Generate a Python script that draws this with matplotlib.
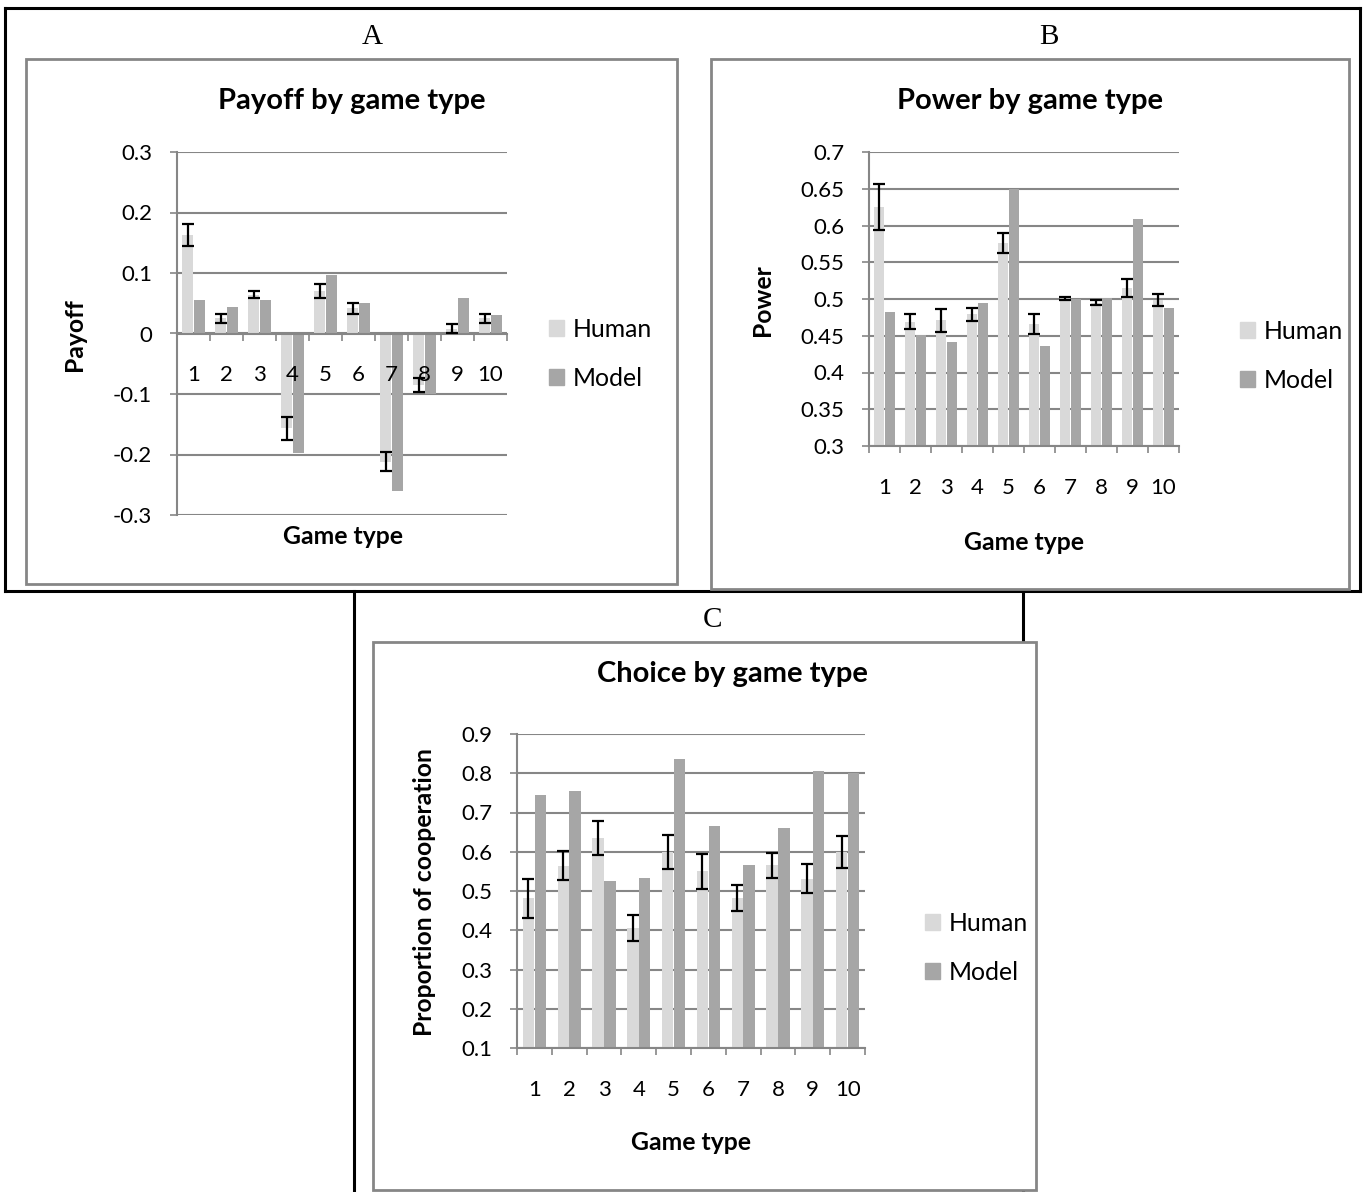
import matplotlib
matplotlib.use("Agg")
import matplotlib.pyplot as plt
from matplotlib.patches import Rectangle, Patch
from matplotlib.lines import Line2D
import numpy as np

plt.rcParams["font.family"] = ["Lato", "DejaVu Sans"]
plt.rcParams["axes.unicode_minus"] = False

W, H, DPI = 1365, 1192, 100

games = ["1", "2", "3", "4", "5", "6", "7", "8", "9", "10"]

payoff_human = [0.163, 0.025, 0.064, -0.157, 0.070, 0.042, -0.212, -0.085, 0.008, 0.025]
payoff_human_err = [0.018, 0.008, 0.006, 0.019, 0.012, 0.009, 0.016, 0.012, 0.007, 0.008]
payoff_model = [0.055, 0.044, 0.056, -0.198, 0.096, 0.051, -0.261, -0.100, 0.059, 0.030]

power_human = [0.625, 0.469, 0.471, 0.479, 0.576, 0.466, 0.501, 0.495, 0.515, 0.499]
power_human_err = [0.031, 0.010, 0.016, 0.009, 0.014, 0.014, 0.002, 0.003, 0.012, 0.008]
power_model = [0.482, 0.451, 0.441, 0.495, 0.649, 0.436, 0.500, 0.501, 0.609, 0.488]

choice_human = [0.481, 0.564, 0.635, 0.406, 0.600, 0.550, 0.482, 0.565, 0.531, 0.599]
choice_human_err = [0.050, 0.037, 0.044, 0.034, 0.043, 0.045, 0.034, 0.033, 0.037, 0.040]
choice_model = [0.744, 0.756, 0.525, 0.534, 0.837, 0.665, 0.567, 0.661, 0.805, 0.800]

HUMAN_C = "#d9d9d9"
MODEL_C = "#a6a6a6"
GRID_C = "#868686"


def rect(x0, y0, x1, y1):
    return [x0 / W, 1 - y1 / H, (x1 - x0) / W, (y1 - y0) / H]


def fpt(x, y):
    return (x / W, 1 - y / H)


fig = plt.figure(figsize=(W / DPI, H / DPI), dpi=DPI)

# overlay in pixel coordinates for the table and the chart frames
ov = fig.add_axes([0, 0, 1, 1])
ov.set_xlim(0, W)
ov.set_ylim(H, 0)
ov.axis("off")
for xs, ys in [([5, 1360], [8, 8]), ([5, 5], [8, 591]), ([1360, 1360], [8, 591]),
               ([5, 1360], [591, 591]), ([354, 354], [591, 1192]), ([1023, 1023], [591, 1192])]:
    ov.add_line(Line2D(xs, ys, color="black", lw=2.2, zorder=1))
# chart areas are white and sit on top of the table lines
for x0, y0, x1, y1 in [(26, 59, 677, 584), (711, 59, 1349, 589), (373, 642, 1036, 1190)]:
    ov.add_patch(Rectangle((x0, y0), x1 - x0, y1 - y0, fc="white", ec=GRID_C, lw=2, zorder=2))
for letter, x, y in [("A", 372, 37), ("B", 1049, 37), ("C", 712, 620)]:
    ov.text(x, y, letter, ha="center", va="center", fontsize=21, family="Liberation Serif")


def chart(box, human, err, model, ylim, step, labels, title, ylabel, title_xy, ylab_xy,
          xlab_xy, leg_xy, zero_axis=False):
    ax = fig.add_axes(rect(*box))
    ax.set_facecolor("none")
    x = np.arange(len(games))
    ax.bar(x - 0.17, human, width=0.33, color=HUMAN_C, zorder=2)
    ax.bar(x + 0.17, model, width=0.33, color=MODEL_C, zorder=2)
    ax.errorbar(x - 0.17, human, yerr=err, fmt="none", ecolor="black", elinewidth=1.6,
                capsize=4.3, capthick=1.6, zorder=4)
    ax.set_xlim(-0.5, len(games) - 0.5)
    ax.set_ylim(*ylim)
    ticks = np.arange(ylim[0], ylim[1] + step / 2, step)
    ax.set_yticks(ticks)
    ax.set_yticklabels(labels)
    ax.yaxis.grid(True, color=GRID_C, lw=1.5)
    ax.set_axisbelow(True)
    ax.xaxis.set_zorder(3)
    ax.set_xticks(x)
    ax.set_xticklabels(games)
    ax.set_xticks(np.arange(-0.5, len(games)), minor=True)
    ax.tick_params(axis="x", which="major", length=0, pad=23, labelsize=16)
    ax.tick_params(axis="x", which="minor", length=5, width=1.2, color=GRID_C)
    ax.tick_params(axis="y", length=5, width=1.2, color=GRID_C, pad=13, labelsize=16)
    for s in ["top", "right"]:
        ax.spines[s].set_visible(False)
    for s in ["left", "bottom"]:
        ax.spines[s].set_color(GRID_C)
        ax.spines[s].set_linewidth(1.5)
    if zero_axis:
        ax.spines["bottom"].set_position(("data", 0))
    fig.text(*fpt(*title_xy), title, ha="center", va="center", fontsize=21, weight="bold")
    fig.text(*fpt(*ylab_xy), ylabel, ha="center", va="center", fontsize=17.8, weight="bold",
             rotation=90)
    fig.text(*fpt(*xlab_xy), "Game type", ha="center", va="center", fontsize=17.8,
             weight="bold")
    handles = [Patch(color=HUMAN_C, label="Human"), Patch(color=MODEL_C, label="Model")]
    ax.legend(handles=handles, loc="center left", bbox_to_anchor=fpt(*leg_xy),
              bbox_transform=fig.transFigure, frameon=False, fontsize=17.8,
              handlelength=0.6, handleheight=0.6, handletextpad=0.35, labelspacing=1.05,
              borderpad=0, borderaxespad=0)
    return ax


chart((177, 152, 507, 515), payoff_human, payoff_human_err, payoff_model, (-0.3, 0.3), 0.1,
      ["-0.3", "-0.2", "-0.1", "0", "0.1", "0.2", "0.3"], "Payoff by game type", "Payoff",
      (352, 101), (75, 335), (343, 537), (549, 354), zero_axis=True)

chart((869, 152, 1179, 446), power_human, power_human_err, power_model, (0.3, 0.7), 0.05,
      ["0.3", "0.35", "0.4", "0.45", "0.5", "0.55", "0.6", "0.65", "0.7"],
      "Power by game type", "Power", (1030, 101), (762, 300), (1024, 542), (1240, 356))

chart((517, 734, 865, 1048), choice_human, choice_human_err, choice_model, (0.1, 0.9), 0.1,
      ["0.1", "0.2", "0.3", "0.4", "0.5", "0.6", "0.7", "0.8", "0.9"],
      "Choice by game type", "Proportion of cooperation", (732, 674), (425, 892),
      (691, 1143), (925, 948))

fig.savefig("out.png", dpi=DPI)
